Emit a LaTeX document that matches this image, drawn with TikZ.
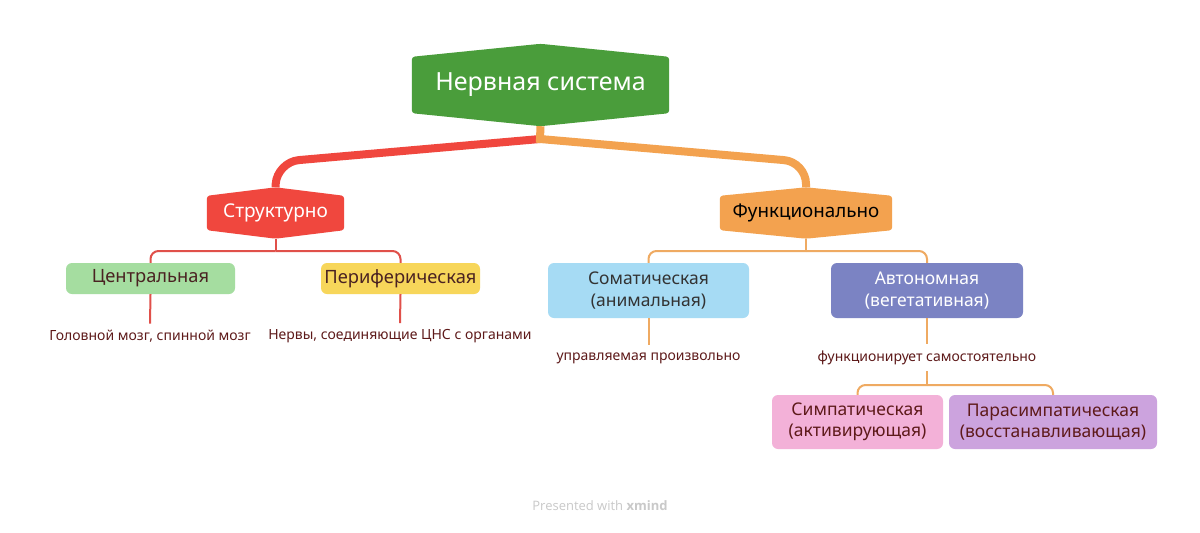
\documentclass[tikz,border=0pt]{standalone}
\usepackage{fontspec}
\setmainfont{Noto Sans}
\newfontfamily\footfont{Open Sans}
\usetikzlibrary{calc}
\pgfdeclarelayer{bg}
\pgfsetlayers{bg,main}
\definecolor{cRoot}{HTML}{4A9D3B}
\definecolor{cRed}{HTML}{F0473E}
\definecolor{cOrange}{HTML}{F3A24F}
\definecolor{cLGreen}{HTML}{A5DDA0}
\definecolor{cYellow}{HTML}{F7D65A}
\definecolor{cLBlue}{HTML}{A6DBF4}
\definecolor{cBlue}{HTML}{7B83C3}
\definecolor{cPink}{HTML}{F3B1D8}
\definecolor{cLav}{HTML}{CCA3DE}
\definecolor{cTxt}{HTML}{4A2222}
\definecolor{cLab}{HTML}{5E1A1A}
\definecolor{cRedThin}{HTML}{E0504A}
\definecolor{cOrThin}{HTML}{EFAA62}
\definecolor{cFoot}{HTML}{C9C9C9}
\tikzset{
  hexnode/.style={rectangle, inner sep=0pt, align=center},
  leafbox/.style={rectangle, rounded corners=6pt, inner sep=0pt, align=center, font=\fontsize{17.5}{21.5}\selectfont, text=cTxt},
  onebox/.style={leafbox, font=\fontsize{18.3}{22}\selectfont},
  labtext/.style={inner sep=0pt, font=\fontsize{14}{16}\selectfont, text=cLab},
  thick1/.style={line width=8pt},
  thin1/.style={line width=2pt},
}
\newcommand{\hexfill}[3]{%
  \begin{pgfonlayer}{bg}
  \fill[#2, rounded corners=3pt] (#1.north west) -- ([yshift=#3]#1.north) -- (#1.north east) -- (#1.south east) -- ([yshift=-#3]#1.south) -- (#1.south west) -- cycle;
  \end{pgfonlayer}
  \coordinate (#1-t) at ([yshift=#3]#1.north);
  \coordinate (#1-b) at ([yshift=-#3]#1.south);
}
\begin{document}
\begin{tikzpicture}[x=1pt,y=-1pt]
\begin{pgfonlayer}{bg}
\fill[white] (0,0) rectangle (1200,533);
\end{pgfonlayer}
\useasboundingbox (0,0) rectangle (1200,533);

% root
\node[hexnode, minimum width=257pt, minimum height=56pt, text=white, font=\fontsize{25}{29}\selectfont] (root) at (540.5,85) {Нервная система};
\hexfill{root}{cRoot}{13pt}

% level 1
\node[hexnode, minimum width=137pt, minimum height=34pt, text=white, font=\fontsize{19}{22}\selectfont] (stru) at (275.5,213) {Структурно};
\hexfill{stru}{cRed}{8.5pt}
\node[hexnode, minimum width=172pt, minimum height=34pt, text=black, font=\fontsize{18.8}{22}\selectfont] (func) at (806,213) {Функционально};
\hexfill{func}{cOrange}{8.5pt}

% level 2
\node[onebox, fill=cLGreen, minimum width=169pt, minimum height=31pt] (cen) at (150.5,278.5) {Центральная};
\node[onebox, fill=cYellow, minimum width=159pt, minimum height=31pt] (per) at (400.5,278.5) {Периферическая};
\node[leafbox, fill=cLBlue, minimum width=201pt, minimum height=55pt, text=black!80] (som) at (648.5,290.5) {Соматическая\\(анимальная)};
\node[leafbox, fill=cBlue, minimum width=192pt, minimum height=55pt, text=white] (aut) at (927,290.5) {Автономная\\(вегетативная)};

% labels
\node[labtext] (lcen) at (150,336) {Головной мозг, спинной мозг};
\node[labtext] (lper) at (400,336) {Нервы, соединяющие ЦНС с органами};
\node[labtext] (lsom) at (648.5,358) {управляемая произвольно};
\node[labtext] (laut) at (927,358) {функционирует самостоятельно};

% level 3
\node[leafbox, fill=cPink, minimum width=171pt, minimum height=54pt, text=cLab] (sym) at (857.5,422) {Симпатическая\\(активирующая)};
\node[leafbox, fill=cLav, minimum width=208pt, minimum height=54pt, text=cLab] (par) at (1053,422) {Парасимпатическая\\(восстанавливающая)};

% thick connectors
\coordinate (rj) at (540,139);
\draw[thick1, cRed, rounded corners=22pt] (rj) -- (277,162) -- (stru-t);
\draw[thick1, cOrange] (root-b) -- (rj) [rounded corners=22pt] -- (806,162) -- (func-t);

% red thin connectors
\coordinate (sj) at (275.5,251);
\draw[thin1, cRedThin] (stru-b) -- (sj);
\draw[thin1, cRedThin, rounded corners=8pt] (sj) -| (cen.north);
\draw[thin1, cRedThin, rounded corners=8pt] (sj) -| (per.north);
\draw[thin1, cRedThin] (cen.south) -- ([yshift=6pt]lcen.north);
\draw[thin1, cRedThin] (per.south) -- ([yshift=6pt]lper.north);

% orange thin connectors
\coordinate (fj) at (806,251);
\draw[thin1, cOrThin] (func-b) -- (fj);
\draw[thin1, cOrThin, rounded corners=8pt] (fj) -| (som.north);
\draw[thin1, cOrThin, rounded corners=8pt] (fj) -| (aut.north);
\draw[thin1, cOrThin] (som.south) -- ([yshift=7pt]lsom.north);
\draw[thin1, cOrThin] (aut.south) -- ([yshift=7pt]laut.north);
\coordinate (aj) at (927,385);
\draw[thin1, cOrThin] ([yshift=-6pt]laut.south) -- (aj);
\draw[thin1, cOrThin, rounded corners=8pt] (aj) -| (sym.north);
\draw[thin1, cOrThin, rounded corners=8pt] (aj) -| (par.north);

% footer
\node[text=cFoot, font=\footfont\fontsize{13}{15}\selectfont] (foot) at (600,506) {Presented with \textbf{xmind}};
\end{tikzpicture}
\end{document}
